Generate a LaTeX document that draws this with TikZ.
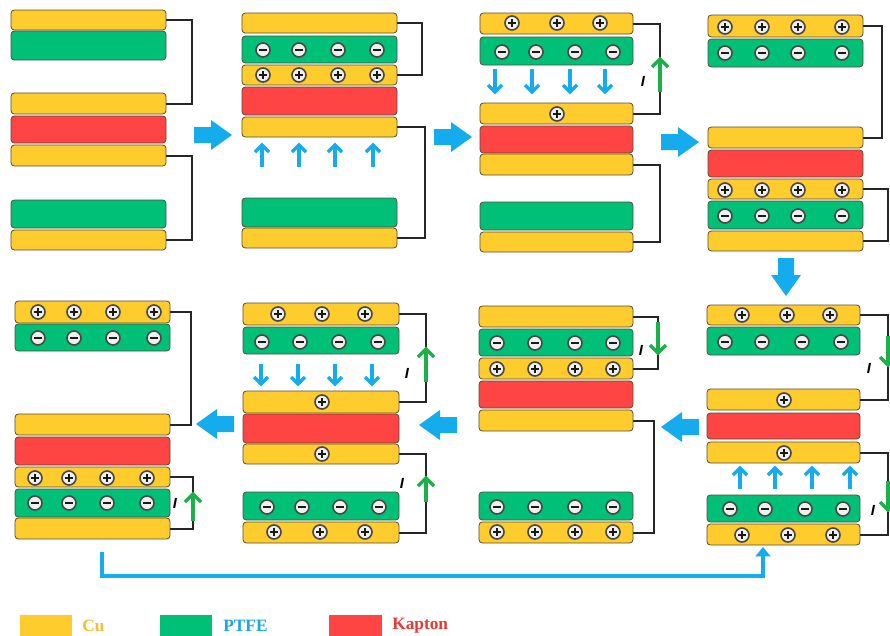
\documentclass[tikz,border=0pt]{standalone}
\usepackage{fontspec}
\setmainfont{Liberation Serif}
\newfontfamily\labsans{Liberation Sans}
\usetikzlibrary{fit,arrows.meta}
\definecolor{cuY}{RGB}{255,204,46}
\definecolor{ptG}{RGB}{0,192,120}
\definecolor{kaR}{RGB}{255,68,68}
\definecolor{arB}{RGB}{20,172,236}
\definecolor{curG}{RGB}{28,176,72}
\definecolor{edgeC}{RGB}{85,78,60}
\definecolor{cuT}{RGB}{245,190,50}
\definecolor{ptT}{RGB}{25,165,230}
\definecolor{kaT}{RGB}{235,55,50}
\newcommand\lay[6]{\node[#2, fit={(#3,#4)(#5,#6)}] (#1) {};}
% big block arrow: name, x, y, rotation
\newcommand\bigarrow[4]{%
  \coordinate (#1) at (#2,#3);
  \fill[arB, shift={(#2,#3)}, rotate=#4]
    (-19,-8) -- (-2,-8) -- (-2,-15) -- (19,0) -- (-2,15) -- (-2,8) -- (-19,8) -- cycle;}
% vertical chevron arrow: name, style, x, y-tail, y-tip, dir (+1 down, -1 up), half width
\newcommand\varr[7]{%
  \draw[#2] (#3,#4) coordinate (#1t) -- (#3,#5) coordinate (#1h);
  \draw[#2] (#1h) ++(-#7,{-#6*#7}) -- (#1h) -- ++(#7,{-#6*#7});}
\tikzset{
  layer/.style={draw=edgeC, line width=0.6pt, rounded corners=2.5pt, inner sep=0pt},
  cu/.style={layer, fill=cuY},
  pt/.style={layer, fill=ptG},
  ka/.style={layer, fill=kaR},
  chg/.style={circle, minimum size=10.5pt, inner sep=0pt, fill=black!6, draw=black!72, line width=1.2pt},
  chp/.style={chg, path picture={\draw[black!90, line width=0.85pt]
      ([xshift=-2.7pt]path picture bounding box.center) -- ([xshift=2.7pt]path picture bounding box.center)
      ([yshift=-2.7pt]path picture bounding box.center) -- ([yshift=2.7pt]path picture bounding box.center);}},
  chm/.style={chg, path picture={\draw[black!90, line width=1pt]
      ([xshift=-2.7pt]path picture bounding box.center) -- ([xshift=2.7pt]path picture bounding box.center);}},
  wire/.style={black!85, line width=1.5pt},
  barrow/.style={arB, line width=2.4pt, line join=miter},
  garrow/.style={curG, line width=2.4pt, line join=miter},
  ilab/.style={font=\labsans\bfseries\itshape\fontsize{11}{11}\selectfont, inner sep=0pt},
  loopln/.style={arB, line width=2.5pt, -{Triangle[length=7pt,width=11pt]}},
  legbox/.style={draw=none, inner sep=0pt},
  legtxt/.style={font=\bfseries\fontsize{13}{13}\selectfont, inner sep=0pt, anchor=west}
}
\begin{document}
\begin{tikzpicture}[x=0.75pt,y=-0.75pt]
\useasboundingbox (0,0) rectangle (890,636);
\fill[white] (0,0) rectangle (890,636);
% ---------------- Panel 1
\lay{p1a}{cu}{11}{10}{166}{30}
\lay{p1b}{pt}{11}{31}{166}{60}
\lay{p1c}{cu}{11}{93}{166}{114}
\lay{p1d}{ka}{11}{116}{166}{143}
\lay{p1e}{cu}{11}{145}{166}{166}
\lay{p1f}{pt}{11}{200}{166}{228}
\lay{p1g}{cu}{11}{230}{166}{250}
\draw[wire] (p1a.east) -- ++(26,0) |- (p1c.east);
\draw[wire] (p1e.east) -- ++(26,0) |- (p1g.east);
\bigarrow{a12}{213}{135}{0}
% ---------------- Panel 2
\lay{p2a}{cu}{242}{13}{397}{33}
\lay{p2b}{pt}{242}{36}{397}{63}
\lay{p2c}{cu}{242}{65}{397}{85}
\lay{p2d}{ka}{242}{87}{397}{115}
\lay{p2e}{cu}{242}{117}{397}{137}
\lay{p2f}{pt}{242}{198}{397}{227}
\lay{p2g}{cu}{242}{228}{397}{248}
\foreach \x [count=\i] in {263,299,338,377}{
  \node[chm] (p2m\i) at (\x,50) {};
  \node[chp] (p2p\i) at (\x,75) {};}
\foreach \x [count=\i] in {262,299,335,373}{\varr{p2u\i}{barrow}{\x}{167}{145}{-1}{7}}
\draw[wire] (p2a.east) -- ++(25,0) |- (p2c.east);
\draw[wire] (p2e.east) -- ++(28,0) |- (p2g.east);
\bigarrow{a23}{453}{137}{0}
% ---------------- Panel 3
\lay{p3a}{cu}{480}{13}{633}{34}
\lay{p3b}{pt}{480}{37}{633}{65}
\lay{p3c}{cu}{480}{103}{633}{124}
\lay{p3d}{ka}{480}{126}{633}{153}
\lay{p3e}{cu}{480}{154}{633}{175}
\lay{p3f}{pt}{480}{202}{633}{230}
\lay{p3g}{cu}{480}{232}{633}{252}
\foreach \x [count=\i] in {512,557,600} \node[chp] (p3p\i) at (\x,23) {};
\foreach \x [count=\i] in {502,536,575,613} \node[chm] (p3m\i) at (\x,52) {};
\foreach \x [count=\i] in {495,532,570,605}{\varr{p3d\i}{barrow}{\x}{69}{92}{1}{7}}
\node[chp] (p3q1) at (557,114) {};
\draw[wire] (p3a.east) -- ++(27,0) |- (p3c.east);
\draw[wire] (p3e.east) -- ++(27,0) |- (p3g.east);
\varr{p3g}{garrow}{660}{92}{59}{-1}{8}
\node[ilab] (p3i) at (643,81) {I};
\bigarrow{a34}{680}{142}{0}
% ---------------- Panel 4
\lay{p4a}{cu}{708}{15}{863}{37}
\lay{p4b}{pt}{708}{39}{863}{67}
\lay{p4c}{cu}{708}{127}{863}{148}
\lay{p4d}{ka}{708}{150}{863}{177}
\lay{p4e}{cu}{708}{179}{863}{199}
\lay{p4f}{pt}{708}{201}{863}{229}
\lay{p4g}{cu}{708}{231}{863}{251}
\foreach \x [count=\i] in {725,762,798,842}{
  \node[chp] (p4p\i) at (\x,27) {};
  \node[chm] (p4m\i) at (\x,53) {};
  \node[chp] (p4q\i) at (\x,190) {};
  \node[chm] (p4n\i) at (\x,216) {};}
\draw[wire] (p4a.east) -- ++(19,0) |- (p4c.east);
\draw[wire] (p4e.east) -- ++(25,0) |- (p4g.east);
\bigarrow{a48}{786}{277}{-90}
% ---------------- Panel 8
\lay{p8a}{cu}{707}{305}{860}{325}
\lay{p8b}{pt}{707}{327}{860}{355}
\lay{p8c}{cu}{707}{389}{860}{410}
\lay{p8d}{ka}{707}{413}{860}{439}
\lay{p8e}{cu}{707}{442}{860}{463}
\lay{p8f}{pt}{707}{495}{860}{522}
\lay{p8g}{cu}{707}{524}{860}{545}
\foreach \x [count=\i] in {742,787,830} \node[chp] (p8p\i) at (\x,315) {};
\foreach \x [count=\i] in {725,762,802,841} \node[chm] (p8m\i) at (\x,342) {};
\node[chp] (p8q1) at (784,400) {};
\node[chp] (p8q2) at (784,453) {};
\foreach \x [count=\i] in {740,775,812,850}{\varr{p8u\i}{barrow}{\x}{489}{468}{-1}{7}}
\foreach \x [count=\i] in {730,765,805,843} \node[chm] (p8n\i) at (\x,509) {};
\foreach \x [count=\i] in {742,788,833} \node[chp] (p8r\i) at (\x,535) {};
\draw[wire] (p8a.east) -- ++(28,0) |- (p8c.east);
\draw[wire] (p8e.east) -- ++(28,0) |- (p8g.east);
\varr{p8ga}{garrow}{888}{336}{365}{1}{8}
\varr{p8gb}{garrow}{888}{481}{510}{1}{8}
\node[ilab] (p8i1) at (869,368) {I};
\node[ilab] (p8i2) at (873,510) {I};
\bigarrow{a87}{680}{427}{180}
% ---------------- Panel 7
\lay{p7a}{cu}{479}{306}{633}{327}
\lay{p7b}{pt}{479}{329}{633}{356}
\lay{p7c}{cu}{479}{358}{633}{379}
\lay{p7d}{ka}{479}{381}{633}{408}
\lay{p7e}{cu}{479}{410}{633}{431}
\lay{p7f}{pt}{479}{492}{633}{520}
\lay{p7g}{cu}{479}{522}{633}{543}
\foreach \x [count=\i] in {497,535,575,613}{
  \node[chm] (p7m\i) at (\x,343) {};
  \node[chp] (p7p\i) at (\x,369) {};
  \node[chm] (p7n\i) at (\x,507) {};
  \node[chp] (p7q\i) at (\x,532) {};}
\draw[wire] (p7a.east) -- ++(25,0) |- (p7c.east);
\draw[wire] (p7e.east) -- ++(21,0) |- (p7g.east);
\varr{p7g}{garrow}{658}{322}{353}{1}{8}
\node[ilab] (p7i) at (641,350) {I};
\bigarrow{a76}{438}{425}{180}
% ---------------- Panel 6
\lay{p6a}{cu}{243}{303}{399}{325}
\lay{p6b}{pt}{243}{327}{399}{354}
\lay{p6c}{cu}{243}{391}{399}{413}
\lay{p6d}{ka}{243}{414}{399}{443}
\lay{p6e}{cu}{243}{444}{399}{464}
\lay{p6f}{pt}{243}{492}{399}{520}
\lay{p6g}{cu}{243}{522}{399}{543}
\foreach \x [count=\i] in {278,322,365} \node[chp] (p6p\i) at (\x,314) {};
\foreach \x [count=\i] in {262,300,339,378} \node[chm] (p6m\i) at (\x,342) {};
\foreach \x [count=\i] in {261,298,335,372}{\varr{p6d\i}{barrow}{\x}{364}{384}{1}{7}}
\node[chp] (p6q1) at (322,402) {};
\node[chp] (p6q2) at (322,454) {};
\foreach \x [count=\i] in {267,302,340,379} \node[chm] (p6n\i) at (\x,507) {};
\foreach \x [count=\i] in {274,320,365} \node[chp] (p6r\i) at (\x,532) {};
\draw[wire] (p6a.east) -- ++(27,0) |- (p6c.east);
\draw[wire] (p6e.east) -- ++(27,0) |- (p6g.east);
\varr{p6ga}{garrow}{426}{382}{349}{-1}{8}
\varr{p6gb}{garrow}{426}{502}{478}{-1}{8}
\node[ilab] (p6i1) at (407,373) {I};
\node[ilab] (p6i2) at (402,483) {I};
\bigarrow{a65}{215}{424}{180}
% ---------------- Panel 5
\lay{p5a}{cu}{15}{301}{170}{323}
\lay{p5b}{pt}{15}{324}{170}{351}
\lay{p5c}{cu}{15}{414}{170}{435}
\lay{p5d}{ka}{15}{437}{170}{465}
\lay{p5e}{cu}{15}{467}{170}{487}
\lay{p5f}{pt}{15}{489}{170}{517}
\lay{p5g}{cu}{15}{518}{170}{539}
\foreach \x [count=\i] in {38,74,113,154}{
  \node[chp] (p5p\i) at (\x,312) {};
  \node[chm] (p5m\i) at (\x,338) {};}
\foreach \x [count=\i] in {35,69,107,147}{
  \node[chp] (p5q\i) at (\x,478) {};
  \node[chm] (p5n\i) at (\x,503) {};}
\draw[wire] (p5a.east) -- ++(21,0) |- (p5c.east);
\draw[wire] (p5e.east) -- ++(23,0) |- (p5g.east);
\varr{p5g}{garrow}{193}{521}{494}{-1}{8}
\node[ilab] (p5i) at (175,503) {I};
% ---------------- return loop
\coordinate (lpS) at (102,552);
\coordinate (lpE) at (763,547);
\draw[loopln] (lpS) -- (102,576) -| (lpE);
% ---------------- legend
\node[legbox, fill=cuY, fit={(20,615)(72,636)}] (lgcu) {};
\node[legtxt, text=cuT] (ltcu) at (82,626) {Cu};
\node[legbox, fill=ptG, fit={(160,615)(212,636)}] (lgpt) {};
\node[legtxt, text=ptT] (ltpt) at (223,626) {PTFE};
\node[legbox, fill=kaR, fit={(329,615)(382,636)}] (lgka) {};
\node[legtxt, text=kaT] (ltka) at (392,626) {Kapton};
\end{tikzpicture}
\end{document}
